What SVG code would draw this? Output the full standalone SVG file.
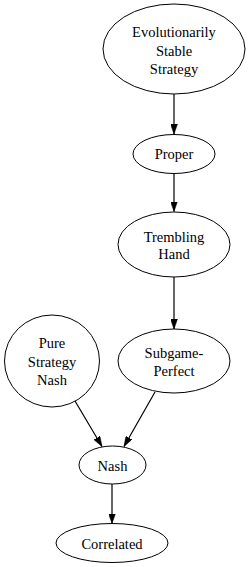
<svg xmlns="http://www.w3.org/2000/svg" width="250" height="567" viewBox="0 0 250 567">
<style>
.n ellipse{fill:#fff;stroke:#000;stroke-width:1}
.n text{font-size:14.5px;text-anchor:middle;fill:#000}
.e line{stroke:#000;stroke-width:1.2}
</style>
<defs>
<marker id="ah" viewBox="0 0 10 7" refX="10" refY="3.5" markerWidth="10" markerHeight="7" markerUnits="userSpaceOnUse" orient="auto">
<path d="M0,0 L10,3.5 L0,7 Z" fill="#000" stroke="#000" stroke-width="0.5"/>
</marker>
</defs>
<rect width="250" height="567" fill="#fff"/>
<g id="edges" class="e">
<line x1="174" y1="94" x2="174" y2="134" marker-end="url(#ah)"/>
<line x1="174" y1="173.5" x2="174" y2="211.5" marker-end="url(#ah)"/>
<line x1="174" y1="277" x2="174" y2="329" marker-end="url(#ah)"/>
<line x1="75" y1="401" x2="102" y2="446.5" marker-end="url(#ah)"/>
<line x1="155" y1="392" x2="124" y2="446.5" marker-end="url(#ah)"/>
<line x1="112" y1="484" x2="112" y2="523.5" marker-end="url(#ah)"/>
</g>
<g font-family="Liberation Serif, DejaVu Serif, serif">
<g id="ess" class="n">
<ellipse cx="174" cy="49" rx="71" ry="45"/>
<text x="174" y="37">Evolutionarily</text>
<text x="174" y="55.5">Stable</text>
<text x="174" y="74">Strategy</text>
</g>
<g id="proper" class="n">
<ellipse cx="174" cy="154" rx="41" ry="19.5"/>
<text x="174" y="159">Proper</text>
</g>
<g id="trembling" class="n">
<ellipse cx="174" cy="244.5" rx="56" ry="32.5"/>
<text x="174" y="241.5">Trembling</text>
<text x="174" y="259">Hand</text>
</g>
<g id="subgame" class="n">
<ellipse cx="174" cy="361" rx="56" ry="32"/>
<text x="174" y="358">Subgame-</text>
<text x="174" y="376">Perfect</text>
</g>
<g id="pure" class="n">
<ellipse cx="52" cy="361" rx="47.5" ry="46"/>
<text x="52" y="348">Pure</text>
<text x="52" y="366.5">Strategy</text>
<text x="52" y="385">Nash</text>
</g>
<g id="nash" class="n">
<ellipse cx="112.5" cy="465" rx="33.5" ry="19"/>
<text x="112.5" y="470.5">Nash</text>
</g>
<g id="correlated" class="n">
<ellipse cx="112" cy="543" rx="56" ry="19.5"/>
<text x="112" y="548.5">Correlated</text>
</g>
</g>
</svg>
